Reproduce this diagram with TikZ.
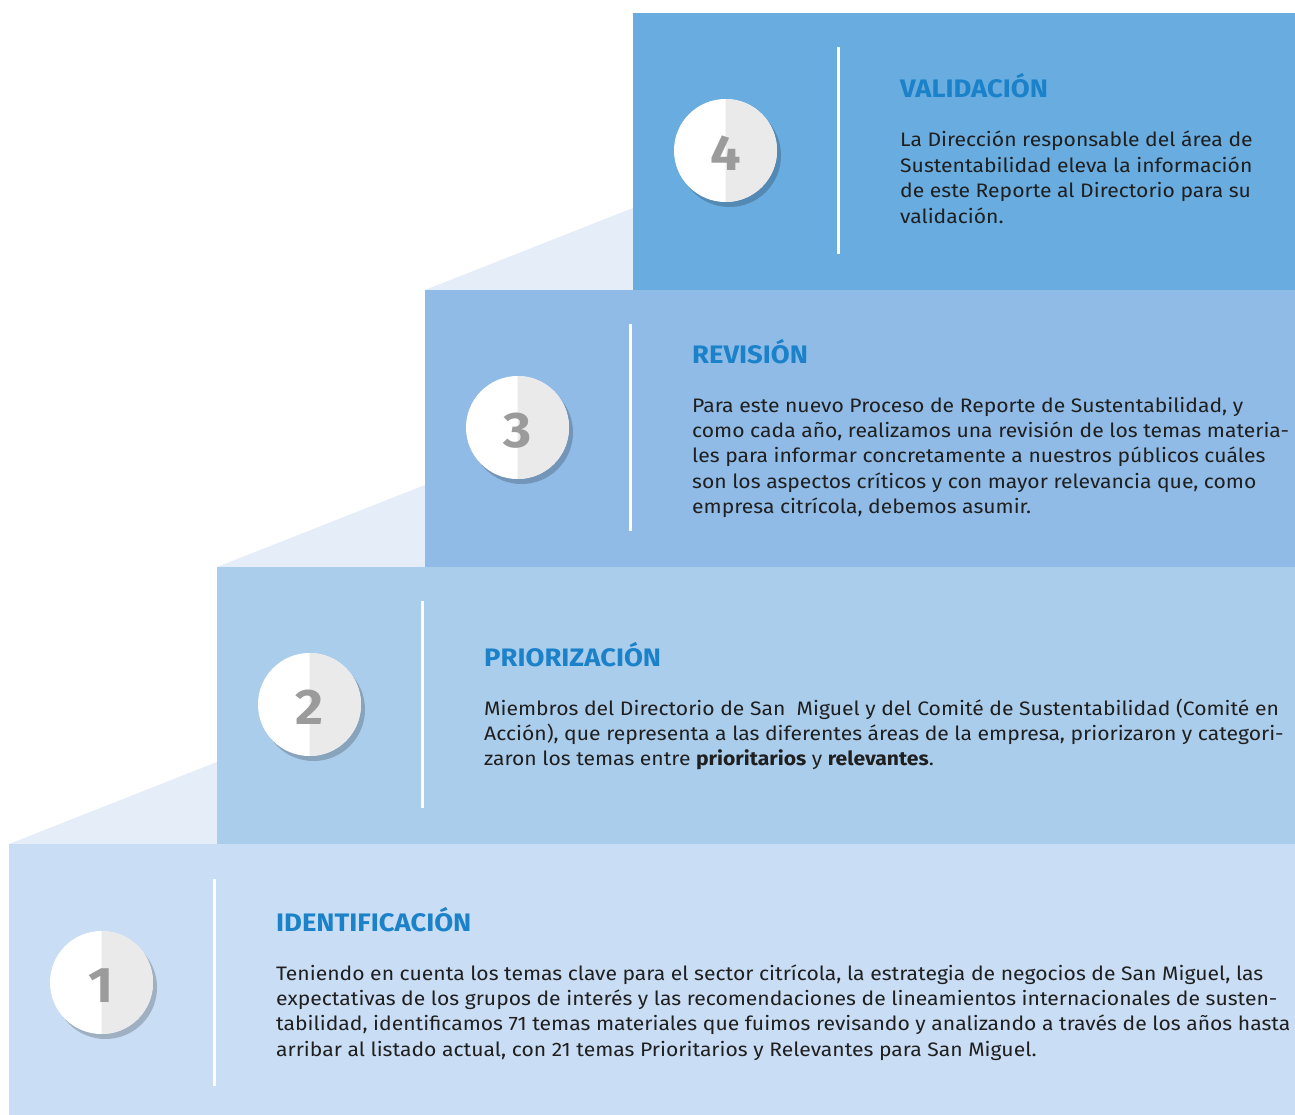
\documentclass[tikz,border=0pt]{standalone}
\usepackage{fontspec}
\setmainfont{Fira Sans}[FakeStretch=1.083]
\usetikzlibrary{calc}
\begin{document}
\definecolor{stepA}{HTML}{C9DDF4}
\definecolor{stepB}{HTML}{ABCDEC}
\definecolor{stepC}{HTML}{8FBBE6}
\definecolor{stepD}{HTML}{68ACE0}
\definecolor{ramp}{HTML}{E5EDF9}
\definecolor{titleblue}{HTML}{1B82C9}
\definecolor{disclight}{HTML}{EAEAEA}
\definecolor{numgray}{HTML}{9B9B9B}
\tikzset{
  steptitle/.style={anchor=base west, inner sep=0pt, text=titleblue,
    font=\fontsize{25.3}{30}\selectfont\bfseries},
  stepbody/.style={anchor=base west, inner sep=0pt, text=black!88,
    font=\fontsize{19.5}{25.4}\selectfont},
  divider/.style={draw=white, line width=3pt},
  numlabel/.style={inner sep=0pt, text=numgray,
    font=\fontsize{50}{50}\selectfont\bfseries}
}
% numbered disc: shadow, white left half, grey right half, digit
\newcommand{\stepdisc}[3]{%
  \fill[black, opacity=0.2] ($(#1)+(4,5)$) circle (51.5);
  \fill[white] (#1) circle (51.5);
  \fill[disclight] ($(#1)+(0,-51.5)$) arc (-90:90:51.5) -- cycle;
  \node[numlabel] (#2) at ($(#1)+(0,3)$) {#3};
}
% text block whose first baseline sits on the anchor
\newcommand{\bodytext}[1]{\begin{minipage}[t]{1100pt}\raggedright #1\end{minipage}}
\begin{tikzpicture}[x=1pt,y=-1pt]
\useasboundingbox (0,0) rectangle (1295,1115);
\fill[white] (0,0) rectangle (1295,1115);

% rising ramps behind the steps
\fill[ramp] (9,844) -- (217,762) -- (217,844) -- cycle;
\fill[ramp] (217,567) -- (425,485) -- (425,567) -- cycle;
\fill[ramp] (425,290) -- (633,208) -- (633,290) -- cycle;

% the four steps
\fill[stepD] (633,13) rectangle (1295,290);
\fill[stepC] (425,290) rectangle (1295,567);
\fill[stepB] (217,567) rectangle (1295,844);
\fill[stepA] (9,844) rectangle (1295,1115);

% white dividers
\coordinate (d4a) at (838,47);  \coordinate (d4b) at (838,254);
\coordinate (d3a) at (630,324); \coordinate (d3b) at (630,531);
\coordinate (d2a) at (422,601); \coordinate (d2b) at (422,808);
\coordinate (d1a) at (214,879); \coordinate (d1b) at (214,1086);
\draw[divider] (d4a) -- (d4b);
\draw[divider] (d3a) -- (d3b);
\draw[divider] (d2a) -- (d2b);
\draw[divider] (d1a) -- (d1b);

% numbered discs
\coordinate (c4) at (725.5,150.5);
\coordinate (c3) at (517.5,427.5);
\coordinate (c2) at (309.5,704.5);
\coordinate (c1) at (101.5,982.5);
\stepdisc{c4}{n4}{4}
\stepdisc{c3}{n3}{3}
\stepdisc{c2}{n2}{2}
\stepdisc{c1}{n1}{1}

% step 4
\node[steptitle] (t4) at (900,98) {VALIDACIÓN};
\node[stepbody] (b4) at (900,147) {\bodytext{La Dirección responsable del área de\\
Sustentabilidad eleva la información\\
de este Reporte al Directorio para su\\
validación.}};

% step 3
\node[steptitle] (t3) at (692,363) {REVISIÓN};
\node[stepbody] (b3) at (692,412) {\bodytext{Para este nuevo Proceso de Reporte de Sustentabilidad, y\\
como cada año, realizamos una revisión de los temas materia-\\
les para informar concretamente a nuestros públicos cuáles\\
son los aspectos críticos y con mayor relevancia que, como\\
empresa citrícola, debemos asumir.}};

% step 2
\node[steptitle] (t2) at (484,666) {PRIORIZACIÓN};
\node[stepbody] (b2) at (484,715) {\bodytext{Miembros del Directorio de San\ \ Miguel y del Comité de Sustentabilidad (Comité en\\
Acción), que representa a las diferentes áreas de la empresa, priorizaron y categori-\\
zaron los temas entre \textbf{prioritarios} y \textbf{relevantes}.}};

% step 1
\node[steptitle] (t1) at (276,931) {IDENTIFICACIÓN};
\node[stepbody] (b1) at (276,980) {\bodytext{Teniendo en cuenta los temas clave para el sector citrícola, la estrategia de negocios de San Miguel, las\\
expectativas de los grupos de interés y las recomendaciones de lineamientos internacionales de susten-\\
tabilidad, identificamos 71 temas materiales que fuimos revisando y analizando a través de los años hasta\\
arribar al listado actual, con 21 temas Prioritarios y Relevantes para San Miguel.}};
\end{tikzpicture}
\end{document}
